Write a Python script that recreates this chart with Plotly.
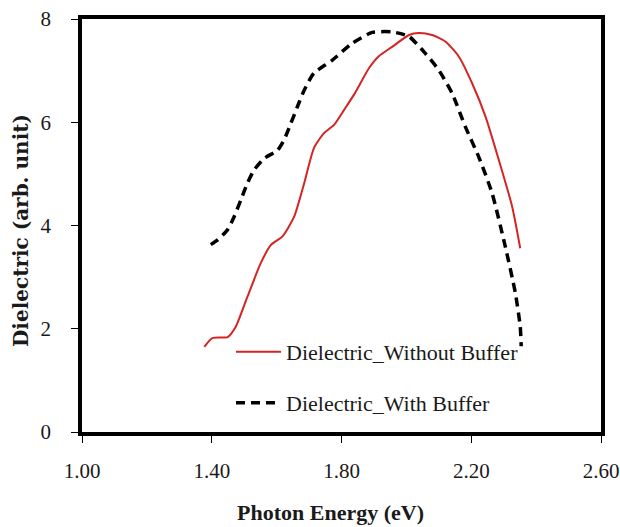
import plotly.graph_objects as go

# Photon energy (eV) and dielectric values (arb. unit)
x_without = [1.377, 1.402, 1.449, 1.474, 1.510, 1.551, 1.582, 1.618, 1.654, 1.685,
             1.715, 1.746, 1.777, 1.808, 1.840, 1.885, 1.915, 1.956, 2.008, 2.038,
             2.079, 2.121, 2.162, 2.203, 2.244, 2.285, 2.326, 2.351]
y_without = [1.65, 1.82, 1.84, 2.04, 2.62, 3.27, 3.62, 3.79, 4.17, 4.82,
             5.50, 5.79, 5.95, 6.24, 6.55, 7.05, 7.28, 7.46, 7.69, 7.73,
             7.69, 7.56, 7.27, 6.75, 6.11, 5.27, 4.37, 3.56]

x_with = [1.397, 1.418, 1.449, 1.469, 1.490, 1.510, 1.531, 1.562, 1.603, 1.623,
          1.644, 1.664, 1.685, 1.715, 1.771, 1.833, 1.895, 1.956, 2.008, 2.059,
          2.100, 2.141, 2.182, 2.223, 2.264, 2.305, 2.336, 2.351, 2.354]
y_with = [3.63, 3.72, 3.92, 4.17, 4.50, 4.82, 5.08, 5.30, 5.46, 5.66,
          5.98, 6.30, 6.62, 6.95, 7.20, 7.53, 7.74, 7.75, 7.66, 7.33,
          7.01, 6.56, 5.91, 5.33, 4.63, 3.59, 2.69, 2.04, 1.66]

x_ticks = [1.00, 1.40, 1.80, 2.20, 2.60]
x_ticklabels = ["1.00", "1.40", "1.80", "2.20", "2.60"]
y_ticks = [0, 2, 4, 6, 8]

name_without = "Dielectric_Without Buffer"
name_with = "Dielectric_With Buffer"
x_title = "Photon Energy (eV)"
y_title = "Dielectric (arb. unit)"

serif = "Liberation Serif, Times New Roman, serif"

fig = go.Figure()
fig.add_trace(go.Scatter(
    x=x_without, y=y_without, mode="lines", name=name_without,
    line=dict(color="#d42424", width=2, shape="spline", smoothing=0.6),
    legend="legend", showlegend=True,
))
fig.add_trace(go.Scatter(
    x=x_with, y=y_with, mode="lines", name=name_with,
    line=dict(color="black", width=3.5, dash="9px,6px", shape="spline", smoothing=0.6),
    legend="legend2", showlegend=True,
))

W, H = 620, 527
ml, mr, mt, mb = 82, 19, 19, 95
pw, ph = W - ml - mr, H - mt - mb

def px_to_paper_x(px):
    return (px - ml) / pw

def px_to_paper_y(py):
    return (H - mb - py) / ph

legend_common = dict(
    xanchor="left", yanchor="middle",
    bgcolor="rgba(0,0,0,0)", borderwidth=0,
    font=dict(family=serif, size=22, color="#1a1a1a"),
    itemwidth=45, visible=True,
)

fig.update_layout(
    width=W, height=H, autosize=False,
    margin=dict(l=ml, r=mr, t=mt, b=mb, pad=0, autoexpand=False),
    paper_bgcolor="white", plot_bgcolor="white",
    font=dict(family=serif, color="#1a1a1a"),
    showlegend=True,
    legend=dict(x=px_to_paper_x(231), y=px_to_paper_y(352), **legend_common),
    legend2=dict(x=px_to_paper_x(231), y=px_to_paper_y(403), **legend_common),
    xaxis=dict(
        range=[1.0, 2.6], tickvals=x_ticks, ticktext=x_ticklabels,
        showgrid=False, zeroline=False, automargin=False,
        showline=True, linecolor="black", linewidth=3.5, mirror=True,
        ticks="outside", ticklen=7, tickwidth=1, tickcolor="black",
        tickfont=dict(family=serif, size=21, color="#1a1a1a"),
        ticklabelstandoff=10,
    ),
    yaxis=dict(
        range=[0, 8], tickvals=y_ticks,
        showgrid=False, zeroline=False, automargin=False,
        showline=True, linecolor="black", linewidth=3.5, mirror=True,
        ticks="outside", ticklen=7, tickwidth=1, tickcolor="black",
        tickfont=dict(family=serif, size=21, color="#1a1a1a"),
        ticklabelstandoff=16,
    ),
    annotations=[
        dict(text=f"<b>{x_title}</b>", xref="paper", yref="paper",
             x=px_to_paper_x(330), y=px_to_paper_y(512),
             xanchor="center", yanchor="middle", showarrow=False,
             font=dict(family=serif, size=22, color="#1a1a1a")),
        dict(text=f"<b>{y_title}</b>", xref="paper", yref="paper",
             x=px_to_paper_x(21), y=px_to_paper_y(231),
             xanchor="center", yanchor="middle", showarrow=False, textangle=-90,
             font=dict(family="DejaVu Serif, serif", size=20, color="#1a1a1a")),
    ],
)

fig.write_html("out.html")
